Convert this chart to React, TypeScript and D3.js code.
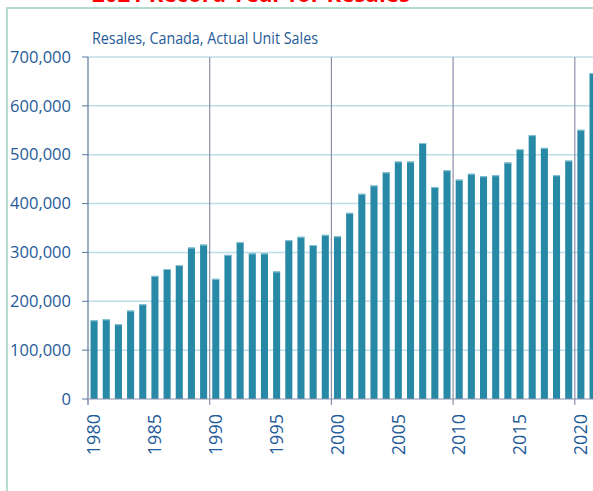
import React, { useRef, useEffect } from "react";
import * as d3 from "d3";

const years = d3.range(1980, 2022).map(String);
const sales = [
  161000, 163000, 153000, 181000, 194000, 252000, 266000, 274000, 310000, 316000,
  246000, 295000, 321000, 298000, 298000, 261000, 325000, 332000, 315000, 336000,
  333000, 381000, 420000, 437000, 464000, 486000, 486000, 524000, 434000, 468000,
  449000, 461000, 456000, 458000, 484000, 511000, 540000, 514000, 458000, 488000,
  551000, 667000,
];
const yTicks = [0, 100000, 200000, 300000, 400000, 500000, 600000, 700000];
const labelYears = ["1980", "1985", "1990", "1995", "2000", "2005", "2010", "2015", "2020"];
const gridYears = ["1990", "2000", "2010", "2020"];

const W = 593;
const H = 491;

const App = () => {
  const svgRef = useRef<SVGSVGElement>(null);

  useEffect(() => {
    const svg = d3.select(svgRef.current);
    svg.selectAll("*").remove();

    const left = 88;
    const step = 12.17;
    const x = d3
      .scaleBand()
      .domain(years)
      .range([left, left + step * years.length])
      .paddingInner(0.42)
      .paddingOuter(0.21);
    const y = d3.scaleLinear().domain([0, 700000]).range([399, 57]);
    const bandStart = (yr: string) => left + years.indexOf(yr) * step;
    const blue = "#1f5b98";
    const font = "'Open Sans', sans-serif";

    // frame
    svg
      .append("path")
      .attr("d", `M7,${H} V8 H${W}`)
      .attr("fill", "none")
      .attr("stroke", "#b3dccb")
      .attr("stroke-width", 2);

    // cut-off title
    svg
      .append("text")
      .attr("x", 92)
      .attr("y", 2)
      .attr("textLength", 318)
      .attr("lengthAdjust", "spacingAndGlyphs")
      .attr("fill", "#ff0000")
      .attr("font-family", font)
      .attr("font-weight", "bold")
      .attr("font-size", 24)
      .text("2021 Record Year for Resales");

    svg
      .append("text")
      .attr("x", 92)
      .attr("y", 44)
      .attr("textLength", 226)
      .attr("lengthAdjust", "spacingAndGlyphs")
      .attr("fill", blue)
      .attr("font-family", font)
      .attr("font-size", 16)
      .text("Resales, Canada, Actual Unit Sales");

    // horizontal gridlines
    svg
      .append("g")
      .selectAll("line")
      .data(yTicks.slice(1))
      .join("line")
      .attr("x1", left)
      .attr("x2", W)
      .attr("y1", (d) => y(d))
      .attr("y2", (d) => y(d))
      .attr("stroke", "#bddde7")
      .attr("stroke-width", 1.5);

    // vertical gridlines
    svg
      .append("g")
      .selectAll("line")
      .data(gridYears)
      .join("line")
      .attr("x1", (d) => bandStart(d))
      .attr("x2", (d) => bandStart(d))
      .attr("y1", y(700000))
      .attr("y2", y(0) + 6)
      .attr("stroke", "#8c90aa")
      .attr("stroke-width", 1.2);

    // bars
    svg
      .append("g")
      .selectAll("rect")
      .data(sales)
      .join("rect")
      .attr("x", (_, i) => x(years[i])!)
      .attr("y", (d) => y(d))
      .attr("width", x.bandwidth())
      .attr("height", (d) => y(0) - y(d))
      .attr("fill", "#2789a5");

    svg
      .append("g")
      .selectAll("line")
      .data(sales)
      .join("line")
      .attr("x1", (_, i) => x(years[i])!)
      .attr("x2", (_, i) => x(years[i])! + x.bandwidth())
      .attr("y1", (d) => y(d) + 0.5)
      .attr("y2", (d) => y(d) + 0.5)
      .attr("stroke", "#8cc6d6")
      .attr("stroke-width", 1);

    // y axis
    const yAxis = svg.append("g");
    yAxis
      .append("line")
      .attr("x1", left)
      .attr("x2", left)
      .attr("y1", y(700000))
      .attr("y2", y(0) + 6)
      .attr("stroke", "#5a77a0")
      .attr("stroke-width", 1.2);
    yAxis
      .selectAll("line.tick")
      .data(yTicks)
      .join("line")
      .attr("class", "tick")
      .attr("x1", left - 6)
      .attr("x2", left)
      .attr("y1", (d) => y(d))
      .attr("y2", (d) => y(d))
      .attr("stroke", "#5a77a0");
    yAxis
      .selectAll("text")
      .data(yTicks)
      .join("text")
      .attr("x", 71)
      .attr("y", (d) => y(d))
      .attr("dy", "0.35em")
      .attr("text-anchor", "end")
      .attr("fill", blue)
      .attr("font-family", font)
      .attr("font-size", 16.5)
      .text((d) => d3.format(",")(d));

    // x axis
    svg
      .append("line")
      .attr("x1", left)
      .attr("x2", W)
      .attr("y1", y(0))
      .attr("y2", y(0))
      .attr("stroke", "#8c90aa")
      .attr("stroke-width", 1.2);
    svg
      .append("g")
      .selectAll("text")
      .data(labelYears)
      .join("text")
      .attr(
        "transform",
        (d) => `translate(${x(d)! + x.bandwidth() / 2},${y(0) + 15}) rotate(-90)`
      )
      .attr("dy", "0.35em")
      .attr("text-anchor", "end")
      .attr("fill", blue)
      .attr("font-family", font)
      .attr("font-size", 18)
      .text((d) => d);
  }, []);

  return (
    <svg
      ref={svgRef}
      width={W}
      height={H}
      style={{ position: "absolute", left: 0, top: 0, background: "#fff" }}
    />
  );
};

export default App;
